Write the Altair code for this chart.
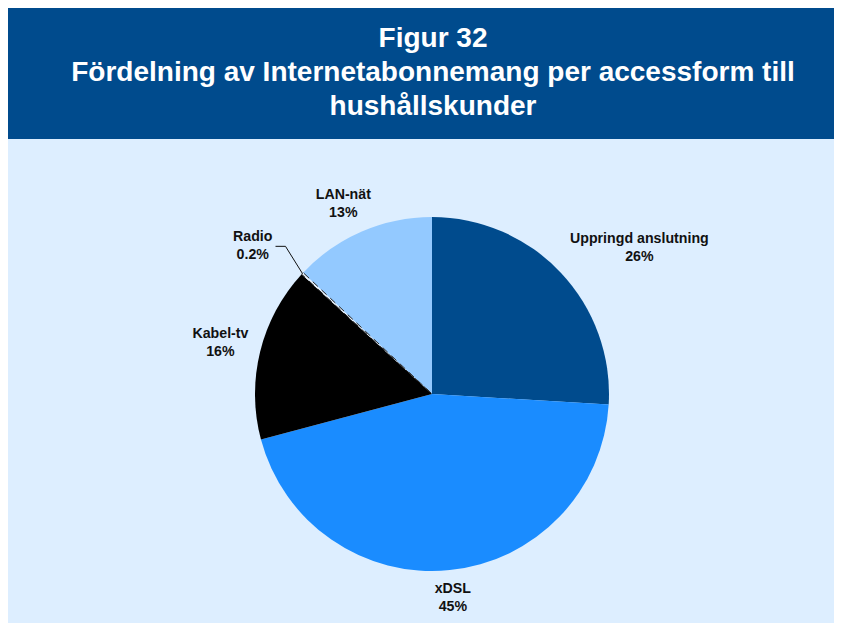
import math
import altair as alt
import pandas as pd

# ---- data ----
names = ["Uppringd anslutning", "xDSL", "Kabel-tv", "Radio", "LAN-nät"]
values = [26, 45, 16, 0.2, 13]
colors = ["#004B8D", "#1A8CFF", "#000000", "#EAF4FF", "#93C9FF"]
title_lines = ["Figur 32",
               "Fördelning av Internetabonnemang per accessform till",
               "hushållskunder"]

# ---- layout constants ----
W, H = 826, 484
PAD_TOP = 131
CX, CY = 424, 255          # pie centre inside the plot area
R = 177
LABEL_R0 = 187             # distance from centre where label boxes start
LINE_H = 18
CHAR_W = 7.5

def clip(v):
    return max(-1.0, min(1.0, v))

total = sum(values)
rows = []
cum = 0.0
for i, (n, v) in enumerate(zip(names, values)):
    mid = (cum + v / 2) / total * 2 * math.pi
    cum += v
    rows.append({"idx": i, "name": n, "value": v, "pct": f"{v:g}%", "mid": mid})
df = pd.DataFrame(rows)

# label positions (outside end, Excel-like), derived from each slice's mid-angle
lx, ly = [], []
for _, r in df.iterrows():
    s, c = math.sin(r["mid"]), math.cos(r["mid"])
    w = CHAR_W * len(r["name"])
    h = 2 * LINE_H
    if r["name"] == "Radio":
        # tiny slice: label sits at the end of a leader line
        ex = CX + 208 * math.sin(r["mid"] + 0.04)
        ey = CY - 208 * math.cos(r["mid"] + 0.04)
        cx = ex - 10 - 4 - w / 2
        cy = ey
    else:
        px, py = CX + LABEL_R0 * s, CY - LABEL_R0 * c
        cx = px + w / 2 * clip(1.4 * s)
        cy = py - h / 2 * clip(1.4 * c)
    lx.append(cx)
    ly.append(cy - LINE_H / 2)
df["lx"] = lx
df["ly"] = ly
df["label"] = df["name"] + "\n" + df["pct"]

# leader line for the tiny "Radio" slice
rm = df.loc[df.name == "Radio", "mid"].iloc[0]
p1 = (CX + R * math.sin(rm), CY - R * math.cos(rm))
p2 = (CX + 208 * math.sin(rm + 0.04), CY - 208 * math.cos(rm + 0.04))
p3 = (p2[0] - 10, p2[1])
leader = pd.DataFrame({"x": [p1[0], p2[0], p3[0]], "y": [p1[1], p2[1], p3[1]],
                       "o": [0, 1, 2]})

base = alt.Chart(df).encode(
    theta=alt.Theta("value:Q", stack=True),
    order=alt.Order("idx:Q"),
)

pie = base.mark_arc(outerRadius=R, stroke=None).encode(
    color=alt.Color("name:N", scale=alt.Scale(domain=names, range=colors),
                    legend=None),
    x=alt.value(CX), y=alt.value(CY),
)

radio_edge = base.mark_arc(outerRadius=R, fillOpacity=0, stroke="#222222",
                           strokeWidth=1, strokeDash=[7, 5]).encode(
    strokeOpacity=alt.condition(alt.datum.name == "Radio", alt.value(1), alt.value(0)),
    x=alt.value(CX), y=alt.value(CY),
)

labels = alt.Chart(df).mark_text(font="Liberation Sans", fontSize=14.2, fontWeight="bold",
                                 color="#111111", lineBreak="\n", lineHeight=LINE_H,
                                 align="center", baseline="middle").encode(
    text="label:N",
    x=alt.X("lx:Q", scale=None, axis=None),
    y=alt.Y("ly:Q", scale=None, axis=None),
)

line = alt.Chart(leader).mark_line(color="#111111", strokeWidth=1).encode(
    x=alt.X("x:Q", scale=None, axis=None),
    y=alt.Y("y:Q", scale=None, axis=None),
    order="o:Q",
)

chart = alt.layer(pie, radio_edge, line, labels).properties(
    width=W, height=H,
    background="#004B8D",
    padding={"top": PAD_TOP, "left": 0, "right": 0, "bottom": 0},
    autosize=alt.AutoSizeParams(type="none"),
    title=alt.TitleParams(text=title_lines, color="white", fontSize=28,
                          font="Liberation Sans", fontWeight="bold",
                          anchor="middle", frame="group", offset=18, dx=12,
                          lineHeight=34),
).configure_view(fill="#DDEEFF", stroke=None)

chart.save("out.html", embed_options={"renderer": "svg", "actions": False})
